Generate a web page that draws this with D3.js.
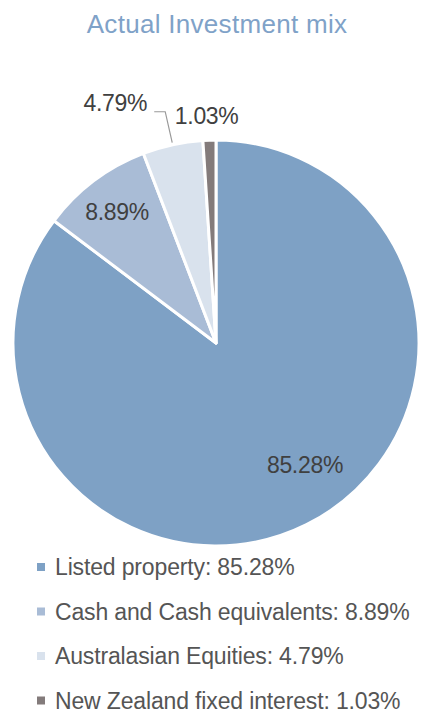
<!DOCTYPE html>
<html>
<head>
<meta charset="utf-8">
<script src="https://cdn.jsdelivr.net/npm/d3@7"></script>
<style>
  body { margin: 0; background: #fff; }
  text { font-family: "Liberation Sans", Arial, sans-serif; }
</style>
</head>
<body>
<svg id="chart" width="421" height="716"></svg>
<script>
// data
var categories = ['Listed property', 'Cash and Cash equivalents', 'Australasian Equities', 'New Zealand fixed interest'];
var values = [85.28, 8.89, 4.79, 1.03];
var colors = ['#7ea1c5', '#a9bcd6', '#d9e2ed', '#837b7b'];

var svg = d3.select('#chart');
var cx = 216, cy = 343, R = 203;

svg.append('text')
  .attr('x', 217)
  .attr('y', 33)
  .attr('text-anchor', 'middle')
  .style('font-size', '26px')
  .style('letter-spacing', '0.3px')
  .style('fill', '#7fa2c8')
  .text('Actual Investment mix');

var pie = d3.pie().sort(null).value(function (d) { return d; });
var arcs = pie(values);
var arc = d3.arc().innerRadius(0).outerRadius(R);

var g = svg.append('g').attr('transform', 'translate(' + cx + ',' + cy + ')');

g.selectAll('path')
  .data(arcs)
  .enter()
  .append('path')
  .attr('d', arc)
  .style('fill', function (d, i) { return colors[i]; })
  .style('stroke', '#fff')
  .style('stroke-width', 3)
  .style('stroke-linejoin', 'round');

function pt(angle, r) {
  return [Math.sin(angle) * r, -Math.cos(angle) * r];
}
function mid(d) { return (d.startAngle + d.endAngle) / 2; }

var labelSize = '23px';

// inner labels
var inner = [
  { i: 0, a: -0.168, r: 0.744 },
  { i: 1, a: 0, r: 0.81 }
];
inner.forEach(function (o) {
  var p = pt(mid(arcs[o.i]) + o.a, R * o.r);
  g.append('text')
    .attr('x', p[0]).attr('y', p[1] + 8)
    .attr('text-anchor', 'middle')
    .style('font-size', labelSize)
    .style('letter-spacing', '-0.3px')
    .style('fill', '#404040')
    .text(values[o.i].toFixed(2) + '%');
});

// outer label with leader for 4.79%
var a2 = mid(arcs[2]);
var e2 = pt(a2, R + 2);
var top2 = [e2[0] - 7, e2[1] - 31];
g.append('polyline')
  .attr('points', [e2, top2, [top2[0] - 11, top2[1]]].map(function (p) { return p.join(','); }).join(' '))
  .style('fill', 'none')
  .style('stroke', '#999')
  .style('stroke-width', 1.2);
g.append('text')
  .attr('x', top2[0] - 18).attr('y', top2[1] - 1)
  .attr('text-anchor', 'end')
  .style('font-size', labelSize)
  .style('letter-spacing', '-0.3px')
  .style('fill', '#404040')
  .text(values[2].toFixed(2) + '%');

// outer label for 1.03%
var e3 = pt(mid(arcs[3]), R + 24);
g.append('text')
  .attr('x', e3[0] - 2).attr('y', e3[1] + 8)
  .attr('text-anchor', 'middle')
  .style('font-size', labelSize)
  .style('letter-spacing', '-0.3px')
  .style('fill', '#404040')
  .text(values[3].toFixed(2) + '%');

// legend
var legend = svg.selectAll('g.leg')
  .data(categories)
  .enter()
  .append('g')
  .attr('class', 'leg')
  .attr('transform', function (d, i) { return 'translate(37,' + (567 + i * 44.5) + ')'; });

legend.append('rect')
  .attr('x', 0).attr('y', -4)
  .attr('width', 8).attr('height', 8)
  .style('fill', function (d, i) { return colors[i]; });

legend.append('text')
  .attr('x', 18).attr('y', 8)
  .style('font-size', '23px')
  .style('letter-spacing', '-0.15px')
  .style('fill', '#555')
  .text(function (d, i) { return d + ': ' + values[i].toFixed(2) + '%'; });
</script>
</body>
</html>
